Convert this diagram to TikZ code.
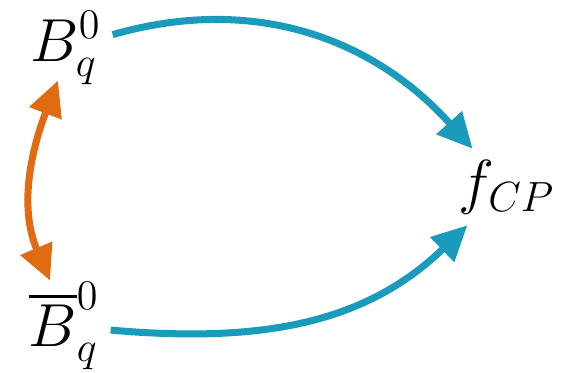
\documentclass[tikz,border=0pt]{standalone}
\usepackage{amsmath, amssymb}
\usepackage{tikz}
\usetikzlibrary{arrows.meta}
\definecolor{Lagoon}{HTML}{1A9BBB}
\definecolor{Rust}{HTML}{DF6B13}

\begin{document}
\begin{tikzpicture}[x=0.01cm, y=0.01cm,
  meson/.style={font=\fontsize{18}{20}\selectfont, inner sep=3pt},
  decay/.style={-{Triangle[length=10pt, width=9.4pt]}, line width=2pt, Lagoon},
  mix/.style={{Triangle[length=10pt, width=9.4pt]}-{Triangle[length=10pt, width=9.4pt]},
     line width=2pt, Rust}]
  \useasboundingbox (0,0) rectangle (577,372);
  \node[meson] (b) at (66,324) {$B_q^0$};
  \node[meson] (bbar) at (64,46) {$\overline{B}_q^0$};
  \node[meson] (f) at (507,185) {$f_{CP}$};
  \draw[decay] (b) to[out=16, in=132] (f);
  \draw[decay] (bbar) to[out=-5, in=224] (f);
  \draw[mix] ([shift={(-8,15)}]b.south) to[out=249, in=113] ([shift={(-14,-10)}]bbar.north);
\end{tikzpicture}
\end{document}
